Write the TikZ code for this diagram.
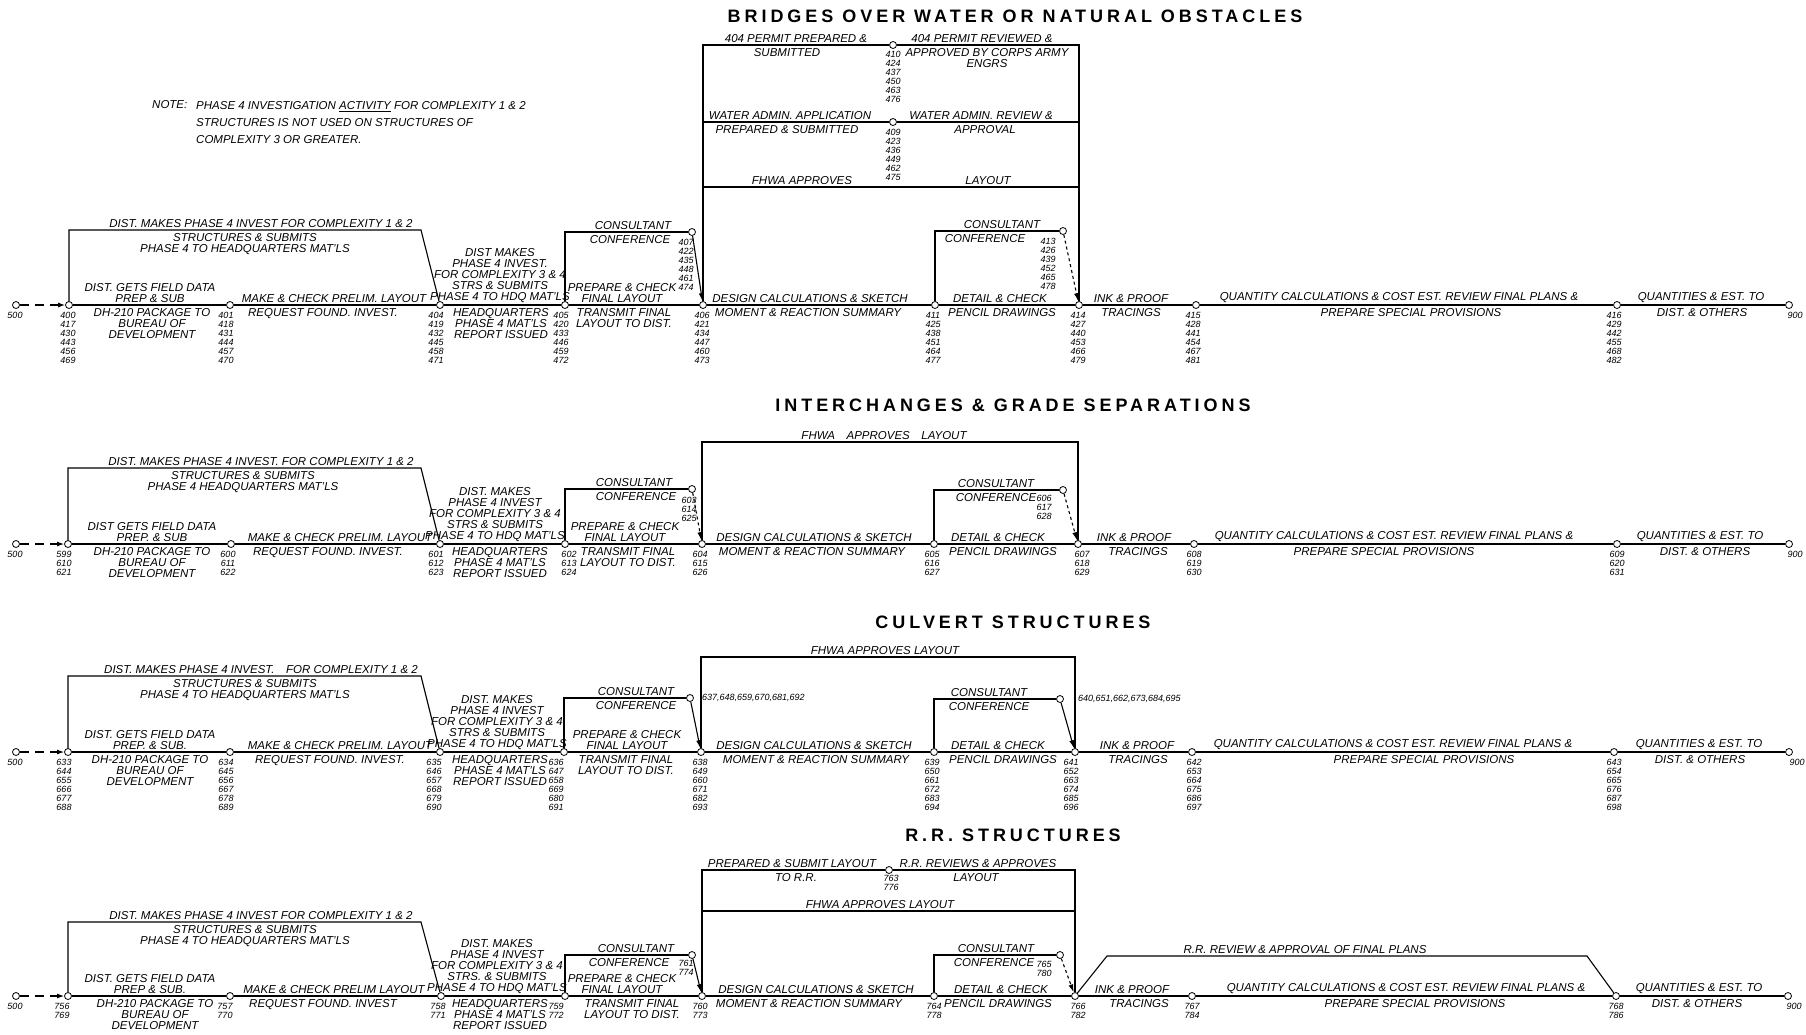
\documentclass[tikz,border=0pt]{standalone}
\usepackage{fontspec}
\setmainfont{Liberation Sans}
\newfontfamily\ttlfont[LetterSpace=22]{Liberation Sans}
\usetikzlibrary{arrows.meta}
\tikzset{
  ev/.style={circle,draw,fill=white,inner sep=0pt,minimum size=7pt,line width=0.8pt},
  act/.style={font=\fontsize{11.5}{11}\selectfont\itshape,inner sep=0pt,align=center},
  nums/.style={font=\fontsize{9}{9}\selectfont\itshape,inner sep=0pt,align=center,anchor=north},
  ttl/.style={font=\ttlfont\bfseries\fontsize{18}{20}\selectfont,inner sep=0pt},
  flow/.style={line width=1.1pt},
  lead/.style={line width=1.1pt,dash pattern=on 9pt off 6pt,-{Latex[length=7pt,width=5pt]}},
  back/.style={line width=1.1pt,-{Latex[length=8pt,width=5pt]}},
}
\begin{document}
\begin{tikzpicture}[x=1pt,y=-1pt]
\useasboundingbox[fill=white] (0,0) rectangle (1806,1034);

% ---------------- bridges over water
\node[ttl] (t1) at (1015,16) {BRIDGES OVER WATER OR NATURAL OBSTACLES};
\node[act,anchor=west] (note) at (152,105) {NOTE:};
\node[act,font=\fontsize{11.5}{17}\selectfont\itshape,anchor=north west,align=left] (notetx) at (196,101)
  {PHASE 4 INVESTIGATION \underline{ACTIVITY} FOR COMPLEXITY 1 \& 2\\STRUCTURES IS NOT USED ON STRUCTURES OF\\COMPLEXITY 3 OR GREATER.};

\node[ev] (s1a) at (16,305) {};
\node[ev] (n400) at (69,305) {};
\node[ev] (n401) at (230,305) {};
\node[ev] (n404) at (440,305) {};
\node[ev] (n405) at (565,305) {};
\node[ev] (n406) at (703,305) {};
\node[ev] (n411) at (935,305) {};
\node[ev] (n414) at (1079,305) {};
\node[ev] (n415) at (1196,305) {};
\node[ev] (n416) at (1617,305) {};
\node[ev] (s1z) at (1789,305) {};
\node[ev] (n407) at (692,232) {};
\node[ev] (n413) at (1063,231) {};
\node[ev] (n410) at (893,45) {};
\node[ev] (n409) at (893,122) {};
\coordinate (u1) at (421,230);
\coordinate (f1) at (893,187);

\draw[lead] (s1a) -- (n400);
\draw[flow] (n400) -- (n401) -- (n404) -- (n405) -- (n406) -- (n411) -- (n414) -- (n415) -- (n416) -- (s1z);
\draw[flow] (n400) |- (u1) -- (n404);
\draw[flow] (n405) |- (n407);
\draw[back] (n407) -- (n406);
\draw[flow] (n406) |- (n410) -| (n414);
\draw[flow] (n406 |- n409) -- (n409) -- (n414 |- n409);
\draw[flow] (n406 |- f1) -- (n414 |- f1);
\draw[flow] (n411) |- (n413);
\draw[back,dashed] (n413) -- (n414);

\node[act,anchor=south] (a1) at (261,227.5) {DIST. MAKES PHASE 4 INVEST FOR COMPLEXITY 1 \& 2};
\node[act,anchor=north] (a2) at (245,233.5) {STRUCTURES \& SUBMITS\\PHASE 4 TO HEADQUARTERS MAT'LS};
\node[act,anchor=south] (a3) at (150,302.5) {DIST. GETS FIELD DATA\\PREP \& SUB};
\node[act,anchor=north] (a4) at (152,308.5) {DH-210 PACKAGE TO\\BUREAU OF\\DEVELOPMENT};
\node[act,anchor=south] (a5) at (334,302.5) {MAKE \& CHECK PRELIM. LAYOUT};
\node[act,anchor=north] (a6) at (323,308.5) {REQUEST FOUND. INVEST.};
\node[act,anchor=south] (a7) at (500,302.5) {DIST MAKES\\PHASE 4 INVEST.\\FOR COMPLEXITY 3 \& 4\\STRS \& SUBMITS\\PHASE 4 TO HDQ MAT'LS};
\node[act,anchor=north] (a8) at (501,308.5) {HEADQUARTERS\\PHASE 4 MAT'LS\\REPORT ISSUED};
\node[act,anchor=south] (a9) at (633,229.5) {CONSULTANT};
\node[act,anchor=north] (a10) at (630,235.5) {CONFERENCE};
\node[act,anchor=south] (a11) at (622,302.5) {PREPARE \& CHECK\\FINAL LAYOUT};
\node[act,anchor=north] (a12) at (624,308.5) {TRANSMIT FINAL\\LAYOUT TO DIST.};
\node[act,anchor=south] (a13) at (796,42.5) {404 PERMIT PREPARED \&};
\node[act,anchor=north] (a14) at (787,48.5) {SUBMITTED};
\node[act,anchor=south] (a15) at (982,42.5) {404 PERMIT REVIEWED \&};
\node[act,anchor=north] (a16) at (987,48.5) {APPROVED BY CORPS ARMY\\ENGRS};
\node[act,anchor=south] (a17) at (790,119.5) {WATER ADMIN. APPLICATION};
\node[act,anchor=north] (a18) at (787,125.5) {PREPARED \& SUBMITTED};
\node[act,anchor=south] (a19) at (981,119.5) {WATER ADMIN. REVIEW \&};
\node[act,anchor=north] (a20) at (985,125.5) {APPROVAL};
\node[act,anchor=south] (a21) at (802,184.5) {FHWA APPROVES};
\node[act,anchor=south] (a22) at (988,184.5) {LAYOUT};
\node[act,anchor=south] (a23) at (810,302.5) {DESIGN CALCULATIONS \& SKETCH};
\node[act,anchor=north] (a24) at (808,308.5) {MOMENT \& REACTION SUMMARY};
\node[act,anchor=south] (a25) at (1002,228.5) {CONSULTANT};
\node[act,anchor=north] (a26) at (985,234.5) {CONFERENCE};
\node[act,anchor=south] (a27) at (1000,302.5) {DETAIL \& CHECK};
\node[act,anchor=north] (a28) at (1002,308.5) {PENCIL DRAWINGS};
\node[act,anchor=south] (a29) at (1131,302.5) {INK \& PROOF};
\node[act,anchor=north] (a30) at (1131,308.5) {TRACINGS};
\node[act,anchor=south] (a31) at (1399,302.5) {QUANTITY CALCULATIONS \& COST EST. REVIEW FINAL PLANS \&};
\node[act,anchor=north] (a32) at (1411,308.5) {PREPARE SPECIAL PROVISIONS};
\node[act,anchor=south] (a33) at (1701,302.5) {QUANTITIES \& EST. TO};
\node[act,anchor=north] (a34) at (1702,308.5) {DIST. \& OTHERS};

\node[nums] (k1a) at ([xshift=-1pt,yshift=-3pt]s1a.south) {500};
\node[nums] (k1z) at ([xshift=6pt,yshift=-3pt]s1z.south) {900};
\node[nums] (k400) at ([xshift=-1pt,yshift=-3pt]n400.south) {400\\417\\430\\443\\456\\469};
\node[nums] (k401) at ([xshift=-4pt,yshift=-3pt]n401.south) {401\\418\\431\\444\\457\\470};
\node[nums] (k404) at ([xshift=-4pt,yshift=-3pt]n404.south) {404\\419\\432\\445\\458\\471};
\node[nums] (k405) at ([xshift=-4pt,yshift=-3pt]n405.south) {405\\420\\433\\446\\459\\472};
\node[nums] (k406) at ([xshift=-1pt,yshift=-3pt]n406.south) {406\\421\\434\\447\\460\\473};
\node[nums] (k407) at ([xshift=-6pt,yshift=-3pt]n407.south) {407\\422\\435\\448\\461\\474};
\node[nums] (k410) at ([yshift=-2pt]n410.south) {410\\424\\437\\450\\463\\476};
\node[nums] (k409) at ([yshift=-3pt]n409.south) {409\\423\\436\\449\\462\\475};
\node[nums] (k411) at ([xshift=-2pt,yshift=-3pt]n411.south) {411\\425\\438\\451\\464\\477};
\node[nums] (k413) at ([xshift=-15pt,yshift=-3pt]n413.south) {413\\426\\439\\452\\465\\478};
\node[nums] (k414) at ([xshift=-1pt,yshift=-3pt]n414.south) {414\\427\\440\\453\\466\\479};
\node[nums] (k415) at ([xshift=-3pt,yshift=-3pt]n415.south) {415\\428\\441\\454\\467\\481};
\node[nums] (k416) at ([xshift=-3pt,yshift=-3pt]n416.south) {416\\429\\442\\455\\468\\482};

% ---------------- interchanges
\node[ttl] (t2) at (1013,405) {INTERCHANGES \& GRADE SEPARATIONS};

\node[ev] (s2a) at (16,544) {};
\node[ev] (n599) at (68,544) {};
\node[ev] (n600) at (231,544) {};
\node[ev] (n601) at (440,544) {};
\node[ev] (n602) at (565,544) {};
\node[ev] (n604) at (702,544) {};
\node[ev] (n605) at (934,544) {};
\node[ev] (n607) at (1078,544) {};
\node[ev] (n608) at (1194,544) {};
\node[ev] (n609) at (1617,544) {};
\node[ev] (s2z) at (1789,544) {};
\node[ev] (n603) at (692,489) {};
\node[ev] (n606) at (1063,490) {};
\coordinate (u2) at (421,468);
\coordinate (f2) at (890,442);

\draw[lead] (s2a) -- (n599);
\draw[flow] (n599) -- (n600) -- (n601) -- (n602) -- (n604) -- (n605) -- (n607) -- (n608) -- (n609) -- (s2z);
\draw[flow] (n599) |- (u2) -- (n601);
\draw[flow] (n602) |- (n603);
\draw[back,dashed] (n603) -- (n604);
\draw[flow] (n604) |- (f2) -| (n607);
\draw[flow] (n605) |- (n606);
\draw[back,dashed] (n606) -- (n607);

\node[act,anchor=south] (b1) at (261,465.5) {DIST. MAKES PHASE 4 INVEST. FOR COMPLEXITY 1 \& 2};
\node[act,anchor=north] (b2) at (243,471.5) {STRUCTURES \& SUBMITS\\PHASE 4 HEADQUARTERS MAT'LS};
\node[act,anchor=south] (b3) at (152,541.5) {DIST GETS FIELD DATA\\PREP. \& SUB};
\node[act,anchor=north] (b4) at (152,547.5) {DH-210 PACKAGE TO\\BUREAU OF\\DEVELOPMENT};
\node[act,anchor=south] (b5) at (340,541.5) {MAKE \& CHECK PRELIM. LAYOUT};
\node[act,anchor=north] (b6) at (328,547.5) {REQUEST FOUND. INVEST.};
\node[act,anchor=south] (b7) at (495,541.5) {DIST. MAKES\\PHASE 4 INVEST\\FOR COMPLEXITY 3 \& 4\\STRS \& SUBMITS\\PHASE 4 TO HDQ MAT'LS};
\node[act,anchor=north] (b8) at (500,547.5) {HEADQUARTERS\\PHASE 4 MAT'LS\\REPORT ISSUED};
\node[act,anchor=south] (b9) at (634,486.5) {CONSULTANT};
\node[act,anchor=north] (b10) at (636,492.5) {CONFERENCE};
\node[act,anchor=south] (b11) at (625,541.5) {PREPARE \& CHECK\\FINAL LAYOUT};
\node[act,anchor=north] (b12) at (628,547.5) {TRANSMIT FINAL\\LAYOUT TO DIST.};
\node[act,anchor=south] (b13) at (884,439.5) {FHWA\quad APPROVES\quad LAYOUT};
\node[act,anchor=south] (b14) at (814,541.5) {DESIGN CALCULATIONS \& SKETCH};
\node[act,anchor=north] (b15) at (812,547.5) {MOMENT \& REACTION SUMMARY};
\node[act,anchor=south] (b16) at (996,487.5) {CONSULTANT};
\node[act,anchor=north] (b17) at (996,493.5) {CONFERENCE};
\node[act,anchor=south] (b18) at (998,541.5) {DETAIL \& CHECK};
\node[act,anchor=north] (b19) at (1003,547.5) {PENCIL DRAWINGS};
\node[act,anchor=south] (b20) at (1134,541.5) {INK \& PROOF};
\node[act,anchor=north] (b21) at (1138,547.5) {TRACINGS};
\node[act,anchor=south] (b22) at (1394,541.5) {QUANTITY CALCULATIONS \& COST EST. REVIEW FINAL PLANS \&};
\node[act,anchor=north] (b23) at (1384,547.5) {PREPARE SPECIAL PROVISIONS};
\node[act,anchor=south] (b24) at (1700,541.5) {QUANTITIES \& EST. TO};
\node[act,anchor=north] (b25) at (1705,547.5) {DIST. \& OTHERS};

\node[nums] (k2a) at ([xshift=-1pt,yshift=-3pt]s2a.south) {500};
\node[nums] (k2z) at ([xshift=6pt,yshift=-3pt]s2z.south) {900};
\node[nums] (k599) at ([xshift=-4pt,yshift=-3pt]n599.south) {599\\610\\621};
\node[nums] (k600) at ([xshift=-3pt,yshift=-3pt]n600.south) {600\\611\\622};
\node[nums] (k601) at ([xshift=-4pt,yshift=-3pt]n601.south) {601\\612\\623};
\node[nums] (k602) at ([xshift=4pt,yshift=-3pt]n602.south) {602\\613\\624};
\node[nums] (k603) at ([xshift=-3pt,yshift=-4pt]n603.south) {603\\614\\625};
\node[nums] (k604) at ([xshift=-2pt,yshift=-3pt]n604.south) {604\\615\\626};
\node[nums] (k605) at ([xshift=-2pt,yshift=-3pt]n605.south) {605\\616\\627};
\node[nums] (k606) at ([xshift=-19pt,yshift=-1pt]n606.south) {606\\617\\628};
\node[nums] (k607) at ([xshift=4pt,yshift=-3pt]n607.south) {607\\618\\629};
\node[nums] (k608) at ([yshift=-3pt]n608.south) {608\\619\\630};
\node[nums] (k609) at ([yshift=-3pt]n609.south) {609\\620\\631};

% ---------------- culvert
\node[ttl] (t3) at (1013,622) {CULVERT STRUCTURES};

\node[ev] (s3a) at (16,752) {};
\node[ev] (n633) at (68,752) {};
\node[ev] (n634) at (230,752) {};
\node[ev] (n635) at (440,752) {};
\node[ev] (n636) at (564,752) {};
\node[ev] (n638) at (701,752) {};
\node[ev] (n639) at (934,752) {};
\node[ev] (n641) at (1075,752) {};
\node[ev] (n642) at (1192,752) {};
\node[ev] (n643) at (1614,752) {};
\node[ev] (s3z) at (1789,752) {};
\node[ev] (n637) at (690,698) {};
\node[ev] (n640) at (1060,699) {};
\coordinate (u3) at (421,676);
\coordinate (f3) at (890,657);

\draw[lead] (s3a) -- (n633);
\draw[flow] (n633) -- (n634) -- (n635) -- (n636) -- (n638) -- (n639) -- (n641) -- (n642) -- (n643) -- (s3z);
\draw[flow] (n633) |- (u3) -- (n635);
\draw[flow] (n636) |- (n637);
\draw[back] (n637) -- (n638);
\draw[flow] (n638) |- (f3) -| (n641);
\draw[flow] (n639) |- (n640);
\draw[back] (n640) -- (n641);

\node[act,anchor=south] (c1) at (261,673.5) {DIST. MAKES PHASE 4 INVEST.\quad FOR COMPLEXITY 1 \& 2};
\node[act,anchor=north] (c2) at (245,679.5) {STRUCTURES \& SUBMITS\\PHASE 4 TO HEADQUARTERS MAT'LS};
\node[act,anchor=south] (c3) at (150,749.5) {DIST. GETS FIELD DATA\\PREP. \& SUB.};
\node[act,anchor=north] (c4) at (150,755.5) {DH-210 PACKAGE TO\\BUREAU OF\\DEVELOPMENT};
\node[act,anchor=south] (c5) at (340,749.5) {MAKE \& CHECK PRELIM. LAYOUT};
\node[act,anchor=north] (c6) at (330,755.5) {REQUEST FOUND. INVEST.};
\node[act,anchor=south] (c7) at (497,749.5) {DIST. MAKES\\PHASE 4 INVEST\\FOR COMPLEXITY 3 \& 4\\STRS \& SUBMITS\\PHASE 4 TO HDQ MAT'LS};
\node[act,anchor=north] (c8) at (500,755.5) {HEADQUARTERS\\PHASE 4 MAT'LS\\REPORT ISSUED};
\node[act,anchor=south] (c9) at (636,695.5) {CONSULTANT};
\node[act,anchor=north] (c10) at (636,701.5) {CONFERENCE};
\node[act,anchor=south] (c11) at (627,749.5) {PREPARE \& CHECK\\FINAL LAYOUT};
\node[act,anchor=north] (c12) at (626,755.5) {TRANSMIT FINAL\\LAYOUT TO DIST.};
\node[act,anchor=south] (c13) at (885,654.5) {FHWA APPROVES LAYOUT};
\node[act,anchor=south] (c14) at (814,749.5) {DESIGN CALCULATIONS \& SKETCH};
\node[act,anchor=north] (c15) at (816,755.5) {MOMENT \& REACTION SUMMARY};
\node[act,anchor=south] (c16) at (989,696.5) {CONSULTANT};
\node[act,anchor=north] (c17) at (989,702.5) {CONFERENCE};
\node[act,anchor=south] (c18) at (998,749.5) {DETAIL \& CHECK};
\node[act,anchor=north] (c19) at (1003,755.5) {PENCIL DRAWINGS};
\node[act,anchor=south] (c20) at (1137,749.5) {INK \& PROOF};
\node[act,anchor=north] (c21) at (1138,755.5) {TRACINGS};
\node[act,anchor=south] (c22) at (1393,749.5) {QUANTITY CALCULATIONS \& COST EST. REVIEW FINAL PLANS \&};
\node[act,anchor=north] (c23) at (1424,755.5) {PREPARE SPECIAL PROVISIONS};
\node[act,anchor=south] (c24) at (1699,749.5) {QUANTITIES \& EST. TO};
\node[act,anchor=north] (c25) at (1700,755.5) {DIST. \& OTHERS};

\node[nums] (k3a) at ([xshift=-1pt,yshift=-3pt]s3a.south) {500};
\node[nums] (k3z) at ([xshift=8pt,yshift=-3pt]s3z.south) {900};
\node[nums] (k633) at ([xshift=-4pt,yshift=-3pt]n633.south) {633\\644\\655\\666\\677\\688};
\node[nums] (k634) at ([xshift=-4pt,yshift=-3pt]n634.south) {634\\645\\656\\667\\678\\689};
\node[nums] (k635) at ([xshift=-6pt,yshift=-3pt]n635.south) {635\\646\\657\\668\\679\\690};
\node[nums] (k636) at ([xshift=-8pt,yshift=-3pt]n636.south) {636\\647\\658\\669\\680\\691};
\node[nums,anchor=west] (k637) at ([xshift=8pt]n637.east) {637,648,659,670,681,692};
\node[nums] (k638) at ([xshift=-1pt,yshift=-3pt]n638.south) {638\\649\\660\\671\\682\\693};
\node[nums] (k639) at ([xshift=-2pt,yshift=-3pt]n639.south) {639\\650\\661\\672\\683\\694};
\node[nums,anchor=west] (k640) at ([xshift=14pt]n640.east) {640,651,662,673,684,695};
\node[nums] (k641) at ([xshift=-4pt,yshift=-3pt]n641.south) {641\\652\\663\\674\\685\\696};
\node[nums] (k642) at ([xshift=2pt,yshift=-3pt]n642.south) {642\\653\\664\\675\\686\\697};
\node[nums] (k643) at ([yshift=-3pt]n643.south) {643\\654\\665\\676\\687\\698};

% ---------------- r.r.
\node[ttl] (t4) at (1013,835) {R.R. STRUCTURES};

\node[ev] (s4a) at (16,996) {};
\node[ev] (n756) at (68,996) {};
\node[ev] (n757) at (230,996) {};
\node[ev] (n758) at (441,996) {};
\node[ev] (n759) at (565,996) {};
\node[ev] (n760) at (702,996) {};
\node[ev] (n764) at (934,996) {};
\node[ev] (n766) at (1075,996) {};
\node[ev] (n767) at (1192,996) {};
\node[ev] (n768) at (1616,996) {};
\node[ev] (s4z) at (1788,996) {};
\node[ev] (n761) at (692,955) {};
\node[ev] (n765) at (1060,955) {};
\node[ev] (n763) at (889,870) {};
\coordinate (u4) at (421,922);
\coordinate (f4) at (890,911);
\coordinate (r1) at (1107,956);
\coordinate (r2) at (1587,956);

\draw[lead] (s4a) -- (n756);
\draw[flow] (n756) -- (n757) -- (n758) -- (n759) -- (n760) -- (n764) -- (n766) -- (n767) -- (n768) -- (s4z);
\draw[flow] (n756) |- (u4) -- (n758);
\draw[flow] (n759) |- (n761);
\draw[back] (n761) -- (n760);
\draw[flow] (n760) |- (n763) -| (n766);
\draw[flow] (n760 |- f4) -- (n766 |- f4);
\draw[flow] (n764) |- (n765);
\draw[back,dashed] (n765) -- (n766);
\draw[flow] (n766) -- (r1) -- (r2) -- (n768);

\node[act,anchor=south] (d1) at (261,919.5) {DIST. MAKES PHASE 4 INVEST FOR COMPLEXITY 1 \& 2};
\node[act,anchor=north] (d2) at (245,925.5) {STRUCTURES \& SUBMITS\\PHASE 4 TO HEADQUARTERS MAT'LS};
\node[act,anchor=south] (d3) at (150,993.5) {DIST. GETS FIELD DATA\\PREP \& SUB.};
\node[act,anchor=north] (d4) at (155,999.5) {DH-210 PACKAGE TO\\BUREAU OF\\DEVELOPMENT};
\node[act,anchor=south] (d5) at (334,993.5) {MAKE \& CHECK PRELIM LAYOUT};
\node[act,anchor=north] (d6) at (323,999.5) {REQUEST FOUND. INVEST};
\node[act,anchor=south] (d7) at (497,993.5) {DIST. MAKES\\PHASE 4 INVEST\\FOR COMPLEXITY 3 \& 4\\STRS. \& SUBMITS\\PHASE 4 TO HDQ MAT'LS};
\node[act,anchor=north] (d8) at (500,999.5) {HEADQUARTERS\\PHASE 4 MAT'LS\\REPORT ISSUED};
\node[act,anchor=south] (d9) at (636,952.5) {CONSULTANT};
\node[act,anchor=north] (d10) at (629,958.5) {CONFERENCE};
\node[act,anchor=south] (d11) at (622,993.5) {PREPARE \& CHECK\\FINAL LAYOUT};
\node[act,anchor=north] (d12) at (632,999.5) {TRANSMIT FINAL\\LAYOUT TO DIST.};
\node[act,anchor=south] (d13) at (792,867.5) {PREPARED \& SUBMIT LAYOUT};
\node[act,anchor=north] (d14) at (796,873.5) {TO R.R.};
\node[act,anchor=south] (d15) at (978,867.5) {R.R. REVIEWS \& APPROVES};
\node[act,anchor=north] (d16) at (976,873.5) {LAYOUT};
\node[act,anchor=south] (d17) at (880,908.5) {FHWA APPROVES LAYOUT};
\node[act,anchor=south] (d18) at (816,993.5) {DESIGN CALCULATIONS \& SKETCH};
\node[act,anchor=north] (d19) at (809,999.5) {MOMENT \& REACTION SUMMARY};
\node[act,anchor=south] (d20) at (996,952.5) {CONSULTANT};
\node[act,anchor=north] (d21) at (994,958.5) {CONFERENCE};
\node[act,anchor=south] (d22) at (1001,993.5) {DETAIL \& CHECK};
\node[act,anchor=north] (d23) at (998,999.5) {PENCIL DRAWINGS};
\node[act,anchor=south] (d24) at (1305,953.5) {R.R. REVIEW \& APPROVAL OF FINAL PLANS};
\node[act,anchor=south] (d25) at (1132,993.5) {INK \& PROOF};
\node[act,anchor=north] (d26) at (1139,999.5) {TRACINGS};
\node[act,anchor=south] (d27) at (1406,993.5) {QUANTITY CALCULATIONS \& COST EST. REVIEW FINAL PLANS \&};
\node[act,anchor=north] (d28) at (1415,999.5) {PREPARE SPECIAL PROVISIONS};
\node[act,anchor=south] (d29) at (1699,993.5) {QUANTITIES \& EST. TO};
\node[act,anchor=north] (d30) at (1697,999.5) {DIST. \& OTHERS};

\node[nums] (k4a) at ([xshift=-1pt,yshift=-3pt]s4a.south) {500};
\node[nums] (k4z) at ([xshift=6pt,yshift=-3pt]s4z.south) {900};
\node[nums] (k756) at ([xshift=-6pt,yshift=-3pt]n756.south) {756\\769};
\node[nums] (k757) at ([xshift=-5pt,yshift=-3pt]n757.south) {757\\770};
\node[nums] (k758) at ([xshift=-3pt,yshift=-3pt]n758.south) {758\\771};
\node[nums] (k759) at ([xshift=-9pt,yshift=-3pt]n759.south) {759\\772};
\node[nums] (k761) at ([xshift=-6pt,yshift=-1pt]n761.south) {761\\774};
\node[nums] (k760) at ([xshift=-2pt,yshift=-3pt]n760.south) {760\\773};
\node[nums] (k763) at ([xshift=2pt,yshift=-1pt]n763.south) {763\\776};
\node[nums] (k764) at ([yshift=-3pt]n764.south) {764\\778};
\node[nums] (k765) at ([xshift=-16pt,yshift=-2pt]n765.south) {765\\780};
\node[nums] (k766) at ([xshift=3pt,yshift=-3pt]n766.south) {766\\782};
\node[nums] (k767) at ([yshift=-3pt]n767.south) {767\\784};
\node[nums] (k768) at ([yshift=-3pt]n768.south) {768\\786};
\end{tikzpicture}
\end{document}
